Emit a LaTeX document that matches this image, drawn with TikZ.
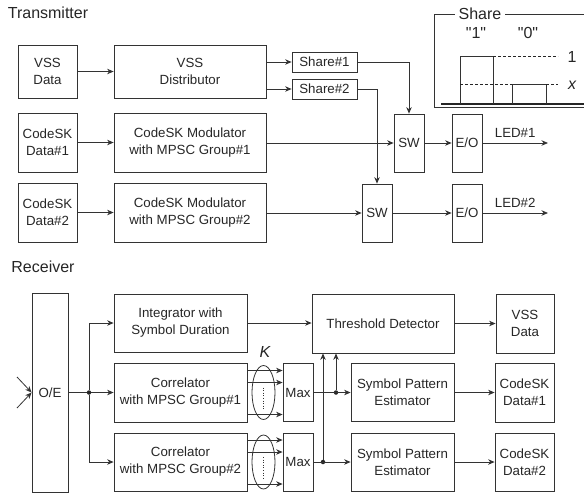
\documentclass[tikz,border=0pt]{standalone}
\usepackage{fontspec}
\setmainfont{Liberation Sans}
\usetikzlibrary{arrows.meta,shapes.geometric}

\tikzset{
  blk/.style={draw=black!80, line width=0.8pt, inner sep=0pt, align=center,
    text=black!85, font=\fontsize{13.3}{17}\selectfont},
  flow/.style={draw=black!80, line width=0.8pt, -{Stealth[length=6.5pt,width=5.5pt]}},
  wire/.style={draw=black!80, line width=0.8pt},
  jdot/.style={circle, fill=black!85, inner sep=0pt, minimum size=4.5pt},
  heading/.style={text=black!85, font=\fontsize{16}{19}\selectfont},
  lbl/.style={text=black!85, font=\fontsize{13.3}{16}\selectfont},
}

\begin{document}
\begin{tikzpicture}[x=1pt,y=-1pt]
\useasboundingbox (0,0) rectangle (584,493);

% transmitter
\node[heading] (txtitle) at (48,13) {Transmitter};
\node[blk, minimum width=59, minimum height=53] (vssdata) at (47.5,71.5) {VSS\\Data};
\node[blk, minimum width=152, minimum height=53] (vssdist) at (190,71.5) {VSS\\Distributor};
\node[blk, minimum width=65, minimum height=20] (share1) at (324.5,62) {Share\#1};
\node[blk, minimum width=65, minimum height=20] (share2) at (324.5,89) {Share\#2};
\node[blk, minimum width=59, minimum height=59] (cskdata1) at (47.5,142.5) {CodeSK\\Data\#1};
\node[blk, minimum width=152, minimum height=59] (mod1) at (190,142.5) {CodeSK Modulator\\with MPSC Group\#1};
\node[blk, minimum width=59, minimum height=59] (cskdata2) at (47.5,212.5) {CodeSK\\Data\#2};
\node[blk, minimum width=152, minimum height=59] (mod2) at (190,212.5) {CodeSK Modulator\\with MPSC Group\#2};
\node[blk, minimum width=30, minimum height=58] (sw1) at (409,143) {SW};
\node[blk, minimum width=30, minimum height=58] (sw2) at (377,213) {SW};
\node[blk, minimum width=30, minimum height=58] (eo1) at (467,143) {E/O};
\node[blk, minimum width=30, minimum height=58] (eo2) at (467,213) {E/O};
\coordinate (led1) at (548,143);
\coordinate (led2) at (548,213);

\draw[flow] (vssdata) -- (vssdist);
\draw[flow] (vssdist.east |- share1) -- (share1);
\draw[flow] (vssdist.east |- share2) -- (share2);
\draw[flow] (cskdata1) -- (mod1);
\draw[flow] (cskdata2) -- (mod2);
\draw[flow] (share1.east) -| (sw1.north);
\draw[flow] (share2.east) -| (sw2.north);
\draw[flow] (mod1.east |- sw1) -- (sw1);
\draw[flow] (mod2.east |- sw2) -- (sw2);
\draw[flow] (sw1) -- (eo1);
\draw[flow] (sw2) -- (eo2);
\draw[flow] (eo1) -- node[lbl, above=2pt] {LED\#1} (led1);
\draw[flow] (eo2) -- node[lbl, above=2pt] {LED\#2} (led2);

% share levels
\draw[wire] (584,14) -| (434,107) -- (584,107);
\node[heading, fill=white, inner xsep=4pt] (sharetitle) at (480,14) {Share};
\draw[black!85, line width=1.6pt] (441,104) -- (584,104);
\draw[wire] (460,104) |- (493,56) -- (493,104);
\draw[wire] (512,104) |- (546,84) -- (546,104);
\draw[black!85, line width=0.5pt, densely dashed] (493,56) -- (558,56);
\draw[black!85, line width=0.5pt, densely dashed] (460,84) -- (512,84);
\draw[black!85, line width=0.5pt, densely dashed] (546,84) -- (558,84);
\node[heading] (bit1) at (476,33) {\textquotedbl 1\textquotedbl};
\node[heading] (bit0) at (528,33) {\textquotedbl 0\textquotedbl};
\node[heading] (lev1) at (572,57) {1};
\node[heading] (levx) at (572,85) {\itshape x};

% receiver
\node[heading] (rxtitle) at (43,267) {Receiver};
\node[blk, minimum width=36, minimum height=199] (oe) at (50,392.5) {O/E};
\node[blk, minimum width=133, minimum height=58] (integ) at (180.5,323) {Integrator with\\Symbol Duration};
\node[blk, minimum width=133, minimum height=59] (corr1) at (180.5,392.5) {Correlator\\with MPSC Group\#1};
\node[blk, minimum width=133, minimum height=58] (corr2) at (180.5,462) {Correlator\\with MPSC Group\#2};
\node[blk, minimum width=30, minimum height=58] (max1) at (298,392.5) {Max};
\node[blk, minimum width=30, minimum height=58] (max2) at (298,462) {Max};
\node[blk, minimum width=142, minimum height=59] (thr) at (383,323.5) {Threshold Detector};
\node[blk, minimum width=58, minimum height=59] (vssrx) at (525,323.5) {VSS\\Data};
\node[blk, minimum width=103, minimum height=58] (spe1) at (402.5,392.5) {Symbol Pattern\\Estimator};
\node[blk, minimum width=103, minimum height=58] (spe2) at (402.5,462) {Symbol Pattern\\Estimator};
\node[blk, minimum width=59, minimum height=59] (cskrx1) at (524.5,392.5) {CodeSK\\Data\#1};
\node[blk, minimum width=59, minimum height=58] (cskrx2) at (524.5,462) {CodeSK\\Data\#2};

\coordinate (in1) at (17,377);
\coordinate (in2) at (17,408);
\draw[flow] (in1) -- (oe.west);
\draw[flow] (in2) -- (oe.west);

\node[jdot] (split) at (89,392.5) {};
\draw[wire] (oe) -- (split);
\draw[flow] (split) -- (corr1);
\draw[flow] (split) |- (integ.west);
\draw[flow] (split) |- (corr2.west);
\draw[flow] (integ.east) -- (integ.east -| thr.west);
\draw[flow] (thr) -- (vssrx);

% K parallel correlator outputs
\foreach \c/\m in {corr1/max1, corr2/max2} {
  \foreach \dy in {22,10,-22}
    \draw[flow] ([yshift=\dy pt]\c.east) -- ([yshift=\dy pt]\m.west);
}
\node[draw=black!80, line width=0.8pt, ellipse, minimum width=23, minimum height=54, inner sep=0pt] (kgrp1) at (263.5,392.5) {};
\node[draw=black!80, line width=0.8pt, ellipse, minimum width=23, minimum height=54, inner sep=0pt] (kgrp2) at (263.5,462) {};
\draw[black!80, line width=0.6pt, dotted] ([yshift=5pt]kgrp1.center) -- ([yshift=-17pt]kgrp1.center);
\draw[black!80, line width=0.6pt, dotted] ([yshift=5pt]kgrp2.center) -- ([yshift=-17pt]kgrp2.center);
\node[heading] (klbl) at (265,352) {\itshape K};

\node[jdot] (tap1) at (336,392.5) {};
\node[jdot] (tap2) at (323,462) {};
\draw[flow] (max1) -- (spe1);
\draw[flow] (max2) -- (spe2);
\draw[flow] (tap1) -- (tap1 |- thr.south);
\draw[flow] (tap2) -- (tap2 |- thr.south);
\draw[flow] (spe1) -- (cskrx1);
\draw[flow] (spe2) -- (cskrx2);
\end{tikzpicture}
\end{document}
